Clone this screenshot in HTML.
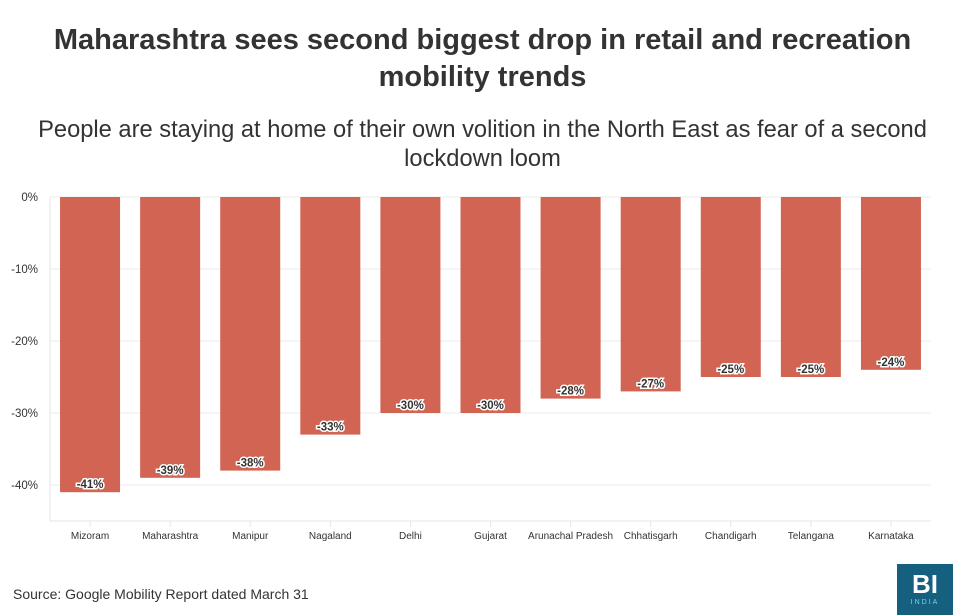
<!DOCTYPE html>
<html><head><meta charset="utf-8"><style>
body{margin:0;width:965px;height:615px;background:#fff;font-family:"Liberation Sans",sans-serif;overflow:hidden;position:relative}
h1{position:absolute;top:22px;left:0;width:965px;margin:0;text-align:center;font-size:29px;line-height:37px;font-weight:bold;color:#333}
h2{position:absolute;top:116px;left:0;width:965px;margin:0;text-align:center;font-size:23.7px;line-height:29px;font-weight:normal;color:#333}
.src{position:absolute;left:13px;top:586px;font-size:14px;color:#333}
.logo{position:absolute;left:897px;top:564px;width:56px;height:51px;background:#155f7f;color:#fff;text-align:center}
</style></head><body>
<h1>Maharashtra sees second biggest drop in retail and recreation<br>mobility trends</h1>
<h2>People are staying at home of their own volition in the North East as fear of a second<br>lockdown loom</h2>
<svg id="c" width="965" height="615" style="position:absolute;left:0;top:0"></svg>
<div class="src">Source: Google Mobility Report dated March 31</div>
<div class="logo"><div style="font-size:26px;font-weight:bold;line-height:30px;margin-top:5px">BI</div><div style="font-size:7px;letter-spacing:2px;color:#7fd0f0">INDIA</div></div>
<script>
const categories=["Mizoram","Maharashtra","Manipur","Nagaland","Delhi","Gujarat","Arunachal Pradesh","Chhatisgarh","Chandigarh","Telangana","Karnataka"];
const values=[-41,-39,-38,-33,-30,-30,-28,-27,-25,-25,-24];
const ticks=[0,-10,-20,-30,-40];
const NS="http://www.w3.org/2000/svg",svg=document.getElementById('c');
const x0=50,x1=931,y0=197,yPer=7.2,bw=(x1-x0)/categories.length;
const y=v=>y0-v*yPer;
function el(t,a){const e=document.createElementNS(NS,t);for(const k in a)e.setAttribute(k,a[k]);svg.appendChild(e);return e;}
ticks.forEach(t=>{
 const g=el('line',{x1:x0,x2:x1,y1:y(t),y2:y(t),stroke:'#ebebeb'});
 
 
 const l=el('text',{x:38,y:y(t)+4,'text-anchor':'end','font-size':11.5,fill:'#333'});
 l.textContent=t+'%';
 
 
});
const ax=el('path',{d:`M${x0} ${y0}V521H${x1}`,stroke:'#e6e6e6',fill:'none'});


categories.forEach((c,i)=>{
 const cx=x0+bw*(i+0.5),v=values[i];
 const r=el('rect',{x:cx-30,y:y0,width:60,height:y(v)-y0,fill:'#d26454'});
 
 
 const tk=el('line',{x1:cx,x2:cx,y1:521,y2:527,stroke:'#e6e6e6'});
 
 
 const lb=el('text',{x:cx,y:539,'text-anchor':'middle','font-size':10,fill:'#333'});
 lb.textContent=c;
 
 
 const vl=el('text',{x:cx,y:y(v)-4,'text-anchor':'middle','font-size':11.5,'font-weight':'bold',fill:'#333',stroke:'#fff','stroke-width':3,'paint-order':'stroke'});
 vl.textContent=v+'%';
 
 
});
</script>
</body></html>
